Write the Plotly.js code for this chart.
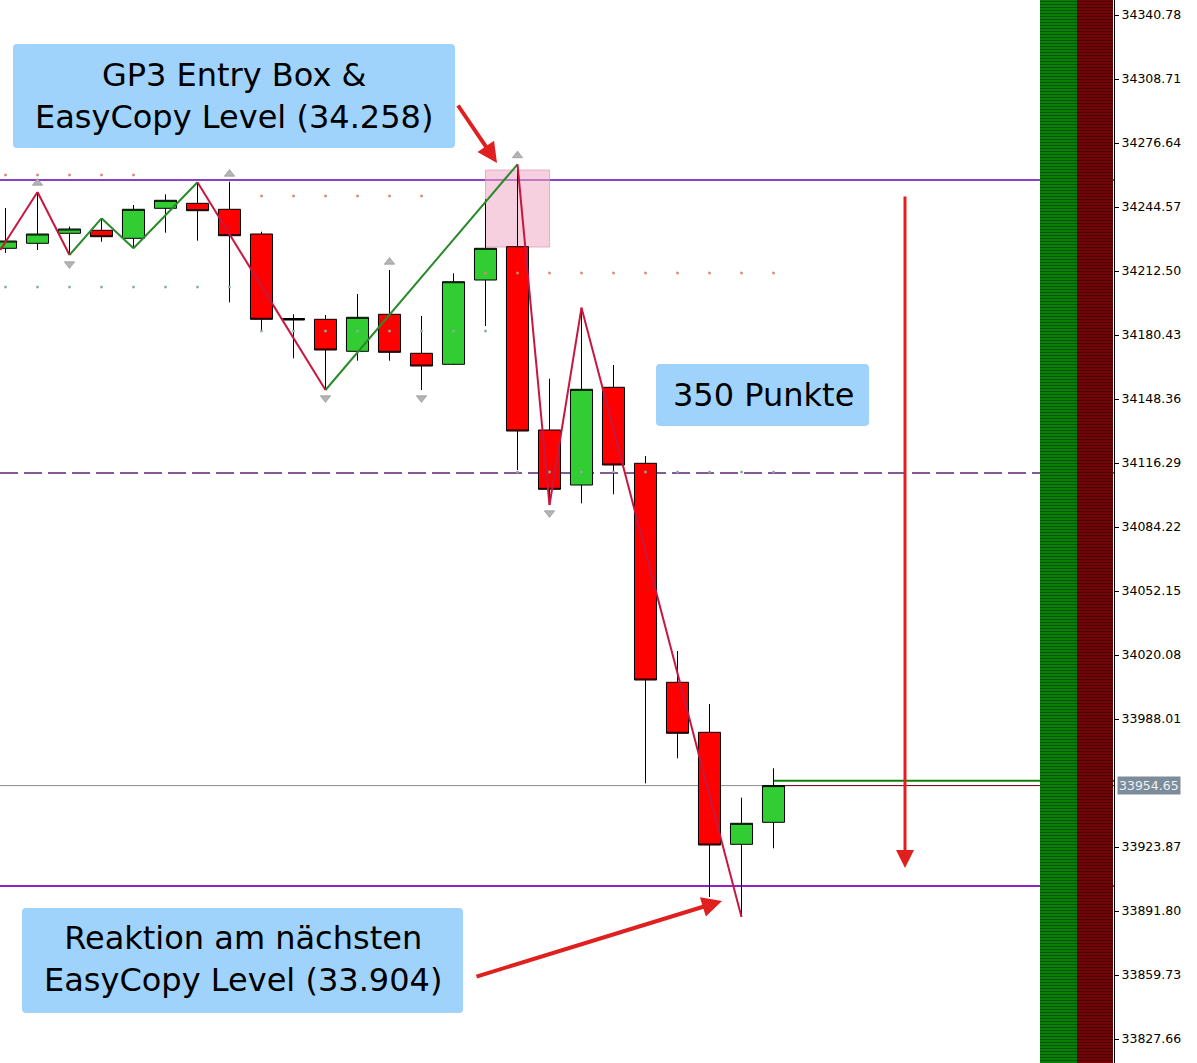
<!DOCTYPE html>
<html>
<head>
<meta charset="utf-8">
<script src="https://cdn.plot.ly/plotly-3.0.1.min.js"></script>
<style>
html,body{margin:0;padding:0;background:#ffffff;}
#chart{width:1197px;height:1063px;}
</style>
</head>
<body>
<div id="chart"></div>
<script>
// ---------- data ----------
const candleIdx = [0,1,2,3,4,5,6,7,8,9,10,11,12,13,14,15,16,17,18,19,20,21,22,23,24];
const openP  = [34223.88,34226.38,34231.39,34232.89,34228.89,34243.92,34246.42,34243.42,34231.04,34188.70,34188.30,34172.26,34190.80,34171.26,34165.75,34207.99,34224.68,34132.83,34105.27,34154.22,34116.14,34006.40,33981.35,33925.23,33936.25];
const highP  = [34244.07,34252.09,34234.70,34238.91,34245.57,34250.93,34256.95,34257.25,34232.19,34190.80,34190.45,34200.97,34213.00,34189.95,34211.35,34248.43,34265.97,34158.53,34194.11,34165.40,34119.80,34022.08,33995.53,33948.58,33963.31];
const lowP   = [34221.52,34223.02,34220.52,34227.18,34223.87,34231.69,34227.68,34196.81,34182.08,34168.75,34152.87,34167.55,34167.55,34152.87,34165.40,34184.94,34112.79,34095.24,34096.10,34100.61,33955.79,33968.32,33898.81,33888.80,33923.22];
const closeP = [34227.53,34231.04,34233.55,34229.69,34243.42,34247.93,34242.72,34230.19,34188.30,34187.95,34172.92,34189.30,34171.76,34164.89,34207.14,34223.88,34132.33,34103.11,34153.22,34115.29,34007.56,33980.85,33924.87,33935.75,33954.65];

// zigzag vertices and colour of each leg
const zzIdx   = [-0.16,1,2,3,4,6,10,16,17,18,23];
const zzPrice = [34223.02,34252.09,34220.52,34238.91,34223.87,34256.95,34152.87,34265.97,34095.24,34194.11,33888.80];
const zzLeg   = ['dn','dn','up','up','up','dn','up','dn','dn','dn'];

// fractal markers
const fracUpIdx   = [1,7,12,16];
const fracUpPrice = [34256.60,34261.11,34217.01,34270.38];
const fracDnIdx   = [2,10,13,17];
const fracDnPrice = [34216.01,34148.86,34148.86,34091.24];

// channel dots
const upDotIdx   = [0,1,2,3,4, 8,9,10,11,12,13, 15,16,17,18,19,20,21,22,23,24];
const upDotPrice = [34260.61,34260.61,34260.61,34260.61,34260.61,
                    34250.08,34250.08,34250.08,34250.08,34250.08,34250.08,
                    34211.49,34211.49,34211.49,34211.49,34211.49,34211.49,34211.49,34211.49,34211.49,34211.49];
const loDotIdx   = [0,1,2,3,4,5,6,7, 8,9,10,11,12,13,14,15, 16,17,18,19,20,21,22,23,24];
const loDotPrice = [34204.48,34204.48,34204.48,34204.48,34204.48,34204.48,34204.48,34204.48,
                    34182.43,34182.43,34182.43,34182.43,34182.43,34182.43,34182.43,34182.43,
                    34111.78,34111.78,34111.78,34111.78,34111.78,34111.78,34111.78,34111.78,34111.78];

// levels
const entryLevel   = 34258.10;
const nextLevel    = 33904.30;
const dashedLevel  = 34111.30;
const bidPrice     = 33954.65;
const askPrice     = 33957.10;
const entryBoxIdx   = [15, 17];
const entryBoxPrice = [34224.53, 34263.10];

// axis ticks
const yTickVals = [34340.78,34308.71,34276.64,34244.57,34212.50,34180.43,34148.36,34116.29,34084.22,34052.15,34020.08,33988.01,33923.87,33891.80,33859.73,33827.66];
const yRange = [33815.64, 34348.30];
const xRange = [-0.171875, 34.640625];

// texts
const box1Text = 'GP3 Entry Box &<br>EasyCopy Level (34.258)';
const box2Text = '350 Punkte';
const box3Text = 'Reaktion am nächsten<br>EasyCopy Level (33.904)';

// ---------- helpers (pixel -> paper) ----------
const PW = 1114, PH = 1063;
const px = v => v / PW;
const py = v => 1 - v / PH;
function roundRect(x0, y0, x1, y1, r) {
  const a = px(x0), b = px(x1), c = py(y0), d = py(y1);
  const rx = r / PW, ry = r / PH;
  return `M${a+rx},${c} L${b-rx},${c} Q${b},${c} ${b},${c-ry} L${b},${d+ry} Q${b},${d} ${b-rx},${d} L${a+rx},${d} Q${a},${d} ${a},${d+ry} L${a},${c-ry} Q${a},${c} ${a+rx},${c} Z`;
}

// zigzag split by colour
function legs(kind) {
  const xs = [], ys = [];
  for (let i = 0; i < zzLeg.length; i++) {
    if (zzLeg[i] !== kind) continue;
    xs.push(zzIdx[i], zzIdx[i+1], null);
    ys.push(zzPrice[i], zzPrice[i+1], null);
  }
  return {xs, ys};
}
const zUp = legs('up'), zDn = legs('dn');

const traces = [
  {
    type: 'candlestick', x: candleIdx, open: openP, high: highP, low: lowP, close: closeP,
    increasing: {line: {color: '#000000', width: 1}, fillcolor: '#32cd32'},
    decreasing: {line: {color: '#000000', width: 1}, fillcolor: '#ff0000'},
    whiskerwidth: 0, hoverinfo: 'skip', showlegend: false
  },
  {type: 'scatter', mode: 'lines', x: zUp.xs, y: zUp.ys, line: {color: '#2a8a2a', width: 2}, hoverinfo: 'skip', showlegend: false},
  {type: 'scatter', mode: 'lines', x: zDn.xs, y: zDn.ys, line: {color: '#c8173f', width: 2}, hoverinfo: 'skip', showlegend: false},
  {type: 'scatter', mode: 'markers', x: upDotIdx, y: upDotPrice, marker: {symbol: 'square', size: 2.5, color: '#c98f70'}, hoverinfo: 'skip', showlegend: false},
  {type: 'scatter', mode: 'markers', x: loDotIdx, y: loDotPrice, marker: {symbol: 'square', size: 2.5, color: '#8aaaa2'}, hoverinfo: 'skip', showlegend: false},
  {type: 'scatter', mode: 'markers', x: fracUpIdx, y: fracUpPrice, marker: {symbol: 'triangle-up', size: 9, color: '#b4b4b4', line: {color: '#8c8c8c', width: 0.6}}, hoverinfo: 'skip', showlegend: false},
  {type: 'scatter', mode: 'markers', x: fracDnIdx, y: fracDnPrice, marker: {symbol: 'triangle-down', size: 9, color: '#b4b4b4', line: {color: '#8c8c8c', width: 0.6}}, hoverinfo: 'skip', showlegend: false},
  // indicator bands on the right
  {type: 'bar', x: [0.5], y: [1], base: [0], width: [1], xaxis: 'x2', yaxis: 'y2',
   marker: {color: '#0b7d0b', line: {width: 0}, pattern: {shape: '-', fgcolor: '#045804', bgcolor: '#0b7d0b', size: 3, solidity: 0.35}},
   hoverinfo: 'skip', showlegend: false},
  {type: 'bar', x: [1.5], y: [1], base: [0], width: [1], xaxis: 'x2', yaxis: 'y2',
   marker: {color: '#720606', line: {width: 0}, pattern: {shape: '-', fgcolor: '#4c0000', bgcolor: '#720606', size: 3, solidity: 0.35}},
   hoverinfo: 'skip', showlegend: false}
];

const shapes = [
  {type: 'rect', xref: 'x', yref: 'y', x0: entryBoxIdx[0], x1: entryBoxIdx[1], y0: entryBoxPrice[0], y1: entryBoxPrice[1],
   fillcolor: 'rgba(238,170,195,0.55)', line: {color: 'rgba(225,150,180,0.7)', width: 1}, layer: 'below'},
  {type: 'line', xref: 'paper', yref: 'y', x0: 0, x1: 1, y0: entryLevel, y1: entryLevel, line: {color: '#8a3fc4', width: 2}, layer: 'below'},
  {type: 'line', xref: 'paper', yref: 'y', x0: 0, x1: 1, y0: nextLevel, y1: nextLevel, line: {color: '#951fc6', width: 2}, layer: 'below'},
  {type: 'line', xref: 'paper', yref: 'y', x0: 0, x1: 1, y0: dashedLevel, y1: dashedLevel, line: {color: '#5e2370', width: 1.4, dash: '18px,6px'}, layer: 'below'},
  {type: 'line', xref: 'paper', yref: 'y', x0: 0, x1: 1, y0: bidPrice, y1: bidPrice, line: {color: '#8e8e8e', width: 1}, layer: 'below'},
  {type: 'line', xref: 'x', yref: 'y', x0: candleIdx[candleIdx.length-1], x1: xRange[1], y0: bidPrice, y1: bidPrice, line: {color: '#7a0a1a', width: 1}, layer: 'below'},
  {type: 'line', xref: 'x', yref: 'y', x0: candleIdx[candleIdx.length-1], x1: xRange[1], y0: askPrice, y1: askPrice, line: {color: '#0a800a', width: 2}, layer: 'below'},
  // text boxes
  {type: 'path', xref: 'paper', yref: 'paper', path: roundRect(13, 44, 455, 148, 4), fillcolor: '#a0d3fb', line: {width: 0}, layer: 'above'},
  {type: 'path', xref: 'paper', yref: 'paper', path: roundRect(656, 364, 869, 426, 4), fillcolor: '#a0d3fb', line: {width: 0}, layer: 'above'},
  {type: 'path', xref: 'paper', yref: 'paper', path: roundRect(22, 908, 463, 1013, 4), fillcolor: '#a0d3fb', line: {width: 0}, layer: 'above'}
];

const txtFont = {family: 'DejaVu Sans, Liberation Sans, sans-serif', size: 32, color: '#000000'};
const annotations = [
  {xref: 'paper', yref: 'paper', x: px(234), y: py(96), text: box1Text, showarrow: false, font: txtFont, xanchor: 'center', yanchor: 'middle', align: 'center'},
  {xref: 'paper', yref: 'paper', x: px(763), y: py(395), text: box2Text, showarrow: false, font: txtFont, xanchor: 'center', yanchor: 'middle', align: 'center'},
  {xref: 'paper', yref: 'paper', x: px(243), y: py(959), text: box3Text, showarrow: false, font: txtFont, xanchor: 'center', yanchor: 'middle', align: 'center'},
  // red arrows
  {xref: 'paper', yref: 'paper', x: px(497), y: py(163), ax: -40, ay: -59, text: '', showarrow: true, arrowhead: 2, arrowsize: 1, arrowwidth: 4, arrowcolor: '#e0201e', standoff: 0},
  {xref: 'paper', yref: 'paper', x: px(905), y: py(868), ax: 0, ay: -673, text: '', showarrow: true, arrowhead: 2, arrowsize: 1.2, arrowwidth: 3, arrowcolor: '#e0201e', standoff: 0},
  {xref: 'paper', yref: 'paper', x: px(722), y: py(901), ax: -247, ay: 76, text: '', showarrow: true, arrowhead: 2, arrowsize: 1, arrowwidth: 4, arrowcolor: '#e0201e', standoff: 0},
  // current price label
  {xref: 'paper', yref: 'y', x: px(1117), y: bidPrice, xanchor: 'left', yanchor: 'middle', text: bidPrice.toFixed(2), showarrow: false,
   bgcolor: '#7d8c9b', borderpad: 1, font: {family: 'DejaVu Sans, sans-serif', size: 12.5, color: '#eef0f2'}}
];

const layout = {
  width: 1197, height: 1063,
  margin: {l: 0, r: 83, t: 0, b: 0, pad: 0},
  paper_bgcolor: '#ffffff', plot_bgcolor: '#ffffff',
  showlegend: false,
  barmode: 'overlay', bargap: 0,
  boxgap: 0.31, boxgroupgap: 0,
  font: {family: 'DejaVu Sans, sans-serif', color: '#000000'},
  xaxis: {domain: [0, 1], range: xRange, visible: false, rangeslider: {visible: false}, fixedrange: true},
  yaxis: {
    domain: [0, 1], range: yRange, side: 'right',
    tickmode: 'array', tickvals: yTickVals, ticktext: yTickVals.map(v => v.toFixed(2)),
    ticks: 'outside', ticklen: 4, tickcolor: '#000000', tickwidth: 1,
    showline: true, linecolor: '#000000', linewidth: 1,
    showgrid: false, zeroline: false, fixedrange: true,
    tickfont: {family: 'DejaVu Sans, sans-serif', size: 12.5, color: '#000000'}
  },
  xaxis2: {domain: [1040 / PW, 1113 / PW], range: [0, 2], visible: false, anchor: 'y2', fixedrange: true},
  yaxis2: {domain: [0, 1], range: [0, 1], visible: false, anchor: 'x2', fixedrange: true},
  shapes: shapes,
  annotations: annotations
};

Plotly.newPlot('chart', traces, layout, {staticPlot: true, displayModeBar: false});
</script>
</body>
</html>
